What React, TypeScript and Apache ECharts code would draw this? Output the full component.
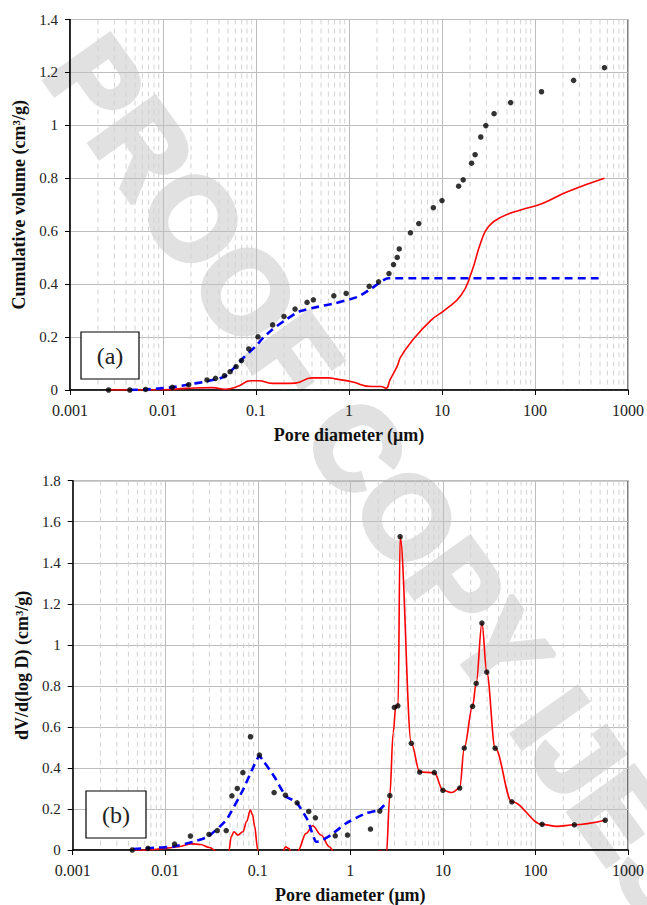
import React, { useEffect, useRef } from "react";
import * as echarts from "echarts";

// ---------- data ----------
const xTickLabels = ["0.001", "0.01", "0.1", "1", "10", "100", "1000"];
const decadeStarts = [0.001, 0.01, 0.1, 1, 10, 100];
const minorSteps = [2, 3, 4, 5, 6, 7, 8, 9];

// panel (a): cumulative volume
const cumDots: number[][] = [
  [0.0026, 0], [0.0044, 0], [0.0065, 0.002], [0.0126, 0.01], [0.0189, 0.02],
  [0.0297, 0.038], [0.0367, 0.044], [0.0458, 0.054], [0.0527, 0.069], [0.0611, 0.088],
  [0.0697, 0.111], [0.0836, 0.155], [0.105, 0.201], [0.151, 0.246], [0.2, 0.278],
  [0.263, 0.306], [0.354, 0.331], [0.414, 0.341], [0.687, 0.356], [0.933, 0.365],
  [1.65, 0.392], [2.08, 0.409], [2.69, 0.44], [3.01, 0.474], [3.3, 0.501],
  [3.47, 0.533], [4.58, 0.594], [5.63, 0.629], [8.07, 0.689], [10.0, 0.716],
  [15.1, 0.77], [16.9, 0.794], [20.8, 0.857], [22.7, 0.889], [26.1, 0.956],
  [29.6, 0.999], [36.3, 1.044], [54.7, 1.086], [117.5, 1.127], [260, 1.17], [558, 1.218],
];
const cumBlue: number[][] = [
  [0.0044, 0], [0.0065, 0.002], [0.0092, 0.006], [0.013, 0.011], [0.0184, 0.02],
  [0.029, 0.032], [0.04, 0.043], [0.048, 0.055], [0.058, 0.083], [0.075, 0.125],
  [0.099, 0.165], [0.12, 0.198], [0.149, 0.228], [0.208, 0.265], [0.288, 0.296],
  [0.472, 0.315], [0.711, 0.328], [1.26, 0.353], [1.75, 0.384], [2.64, 0.422], [500, 0.422],
];
const cumRed: number[][] = [
  [0.0026, 0], [0.005, 0], [0.01, 0.001], [0.0177, 0.006], [0.034, 0.009],
  [0.047, 0.003], [0.066, 0.016], [0.087, 0.035], [0.107, 0.035], [0.149, 0.025],
  [0.207, 0.025], [0.265, 0.026], [0.4, 0.046], [0.6, 0.046], [0.71, 0.042],
  [1.07, 0.031], [1.75, 0.013], [2.2, 0.013], [2.5, 0.007], [2.76, 0.038],
  [3.3, 0.09], [3.6, 0.125], [4.7, 0.183], [7.69, 0.265], [10.7, 0.302],
  [16.1, 0.359], [20.6, 0.441], [26.3, 0.56], [32.0, 0.62], [45, 0.656],
  [70, 0.68], [120, 0.705], [223, 0.749], [558, 0.8],
];

// panel (b): dV/d(log D)
const distDots: number[][] = [
  [0.0044, 0], [0.0065, 0.008], [0.0126, 0.029], [0.0187, 0.068], [0.0297, 0.076],
  [0.0365, 0.095], [0.0456, 0.095], [0.0525, 0.264], [0.06, 0.3], [0.069, 0.377],
  [0.0834, 0.552], [0.104, 0.463], [0.15, 0.28], [0.199, 0.267], [0.266, 0.23],
  [0.355, 0.188], [0.419, 0.157], [0.687, 0.069], [0.933, 0.073], [1.65, 0.102],
  [2.08, 0.19], [2.67, 0.265], [2.99, 0.695], [3.26, 0.703], [3.45, 1.527],
  [4.56, 0.52], [5.62, 0.38], [8.08, 0.377], [10.0, 0.291], [15.2, 0.302],
  [17.0, 0.497], [20.9, 0.7], [22.9, 0.812], [26.4, 1.106], [29.8, 0.867],
  [36.7, 0.496], [55.6, 0.235], [118, 0.125], [263, 0.123], [567, 0.145],
];
const distBlue: number[][] = [
  [0.0045, 0.005], [0.007, 0.01], [0.012, 0.016], [0.02, 0.04], [0.029, 0.065],
  [0.0456, 0.146], [0.069, 0.292], [0.088, 0.398], [0.104, 0.458], [0.113, 0.439],
  [0.151, 0.357], [0.202, 0.26], [0.259, 0.235], [0.346, 0.146], [0.426, 0.04],
  [0.48, 0.044], [0.618, 0.073], [0.897, 0.13], [1.47, 0.179], [2.05, 0.195], [2.32, 0.219],
];
const distRed: number[][] = [
  [0.0044, -0.006], [0.0065, 0.0], [0.01, 0.008], [0.014, 0.016], [0.019, 0.03],
  [0.024, 0.027], [0.03, 0.012], [0.037, -0.01], [0.042, -0.06], [0.0487, -0.005],
  [0.0516, 0.065], [0.0552, 0.089], [0.061, 0.073], [0.069, 0.089], [0.076, 0.14],
  [0.083, 0.195], [0.088, 0.17], [0.092, 0.12], [0.1, 0.0], [0.11, -0.08],
  [0.15, -0.1], [0.185, -0.01], [0.2, 0.016], [0.215, 0.008], [0.23, -0.01],
  [0.25, -0.03], [0.27, -0.005], [0.333, 0.081], [0.392, 0.118], [0.482, 0.073],
  [0.593, 0.016], [0.67, -0.01], [0.8, -0.06], [1.2, -0.1], [2.1, -0.005],
  [2.45, -0.02], [2.67, 0.265], [2.9, 0.57], [3.1, 0.7], [3.28, 0.703],
  [3.45, 1.527], [4.56, 0.52], [5.62, 0.38], [8.08, 0.377], [10.0, 0.291],
  [12.5, 0.28], [15.2, 0.302], [17.0, 0.497], [20.9, 0.7], [22.9, 0.812],
  [26.4, 1.106], [29.8, 0.867], [36.7, 0.496], [55.6, 0.235], [118, 0.125],
  [170, 0.115], [263, 0.123], [567, 0.145],
];

const SERIF = "Liberation Serif, Times New Roman, serif";

export default function App() {
  const ref = useRef<HTMLDivElement>(null);

  useEffect(() => {
    if (!ref.current) return;
    const chart = echarts.init(ref.current, undefined, { renderer: "svg" });

    const minorValues: number[][] = [];
    decadeStarts.forEach((d) => minorSteps.forEach((m) => minorValues.push([d * m, 0])));

    const xAxisBase = (gridIndex: number, gap: number) => ({
      type: "log",
      logBase: 10,
      gridIndex,
      min: 0.001,
      max: 1000,
      name: "Pore diameter (μm)",
      nameLocation: "middle",
      nameGap: gap,
      nameTextStyle: { fontFamily: SERIF, fontWeight: "bold", fontSize: 18, color: "#111" },
      axisLine: { show: true, onZero: false, lineStyle: { color: "#000", width: 1.5 } },
      axisTick: { show: true, inside: false, length: 5, lineStyle: { color: "#000" } },
      axisLabel: {
        fontFamily: SERIF,
        fontSize: 16,
        color: "#222",
        margin: 12,
        formatter: (v: number) => xTickLabels[Math.round(Math.log10(v)) + 3] ?? "",
      },
      splitLine: { show: true, lineStyle: { color: "#bdbdbd", width: 1 } },
    });

    const yAxisBase = (gridIndex: number, max: number, name: string, gap: number) => ({
      type: "value",
      gridIndex,
      min: 0,
      max,
      interval: 0.2,
      name,
      nameLocation: "middle",
      nameGap: gap,
      nameTextStyle: { fontFamily: SERIF, fontWeight: "bold", fontSize: 18, color: "#111" },
      axisLine: { show: true, lineStyle: { color: "#000", width: 1.5 } },
      axisTick: { show: true, inside: false, length: 5, lineStyle: { color: "#000" } },
      axisLabel: {
        fontFamily: SERIF,
        fontSize: 15,
        color: "#222",
        margin: 12,
        formatter: (v: number) => String(Number(v.toFixed(1))),
      },
      splitLine: { show: true, lineStyle: { color: "#bdbdbd", width: 1 } },
    });

    const minorSeries = (idx: number) => ({
      type: "custom",
      xAxisIndex: idx,
      yAxisIndex: idx,
      silent: true,
      z: 0,
      data: minorValues,
      renderItem: (params: any, api: any) => {
        const x = api.coord([api.value(0), 0.5])[0];
        const cs = params.coordSys;
        return {
          type: "line",
          shape: { x1: x, y1: cs.y, x2: x, y2: cs.y + cs.height },
          style: { stroke: "#d2d2d2", lineWidth: 1, lineDash: [5, 4] },
        };
      },
    });

    const option: any = {
      animation: false,
      backgroundColor: "#fff",
      textStyle: { fontFamily: SERIF },
      grid: [
        { left: 70, top: 19.5, width: 561, height: 370.5, show: true, borderColor: "#000", borderWidth: 1, backgroundColor: "transparent" },
        { left: 72.7, top: 480.7, width: 556.6, height: 369.3, show: true, borderColor: "#000", borderWidth: 1, backgroundColor: "transparent" },
      ],
      xAxis: [xAxisBase(0, 36), xAxisBase(1, 36)],
      yAxis: [
        yAxisBase(0, 1.4, "Cumulative volume (cm³/g)", 33),
        yAxisBase(1, 1.8, "dV/d(log D) (cm³/g)", 34),
      ],
      series: [
        minorSeries(0),
        minorSeries(1),
        {
          type: "line", xAxisIndex: 0, yAxisIndex: 0, data: cumRed, showSymbol: false,
          smooth: 0.5, z: 3,
          lineStyle: { color: "#ff0000", width: 1.6 },
        },
        {
          type: "line", xAxisIndex: 0, yAxisIndex: 0, data: cumBlue, showSymbol: false,
          smooth: 0.2, z: 4,
          lineStyle: { color: "#0000ff", width: 2.6, type: [8, 5] },
        },
        {
          type: "scatter", xAxisIndex: 0, yAxisIndex: 0, data: cumDots, symbolSize: 5.5, z: 5,
          itemStyle: { color: "#000" },
        },
        {
          type: "line", xAxisIndex: 1, yAxisIndex: 1, data: distRed, showSymbol: false,
          smooth: 0.35, smoothMonotone: "x", z: 3, clip: true,
          lineStyle: { color: "#ff0000", width: 1.6 },
        },
        {
          type: "line", xAxisIndex: 1, yAxisIndex: 1, data: distBlue, showSymbol: false,
          smooth: 0.15, z: 4,
          lineStyle: { color: "#0000ff", width: 2.6, type: [8, 5] },
        },
        {
          type: "scatter", xAxisIndex: 1, yAxisIndex: 1, data: distDots, symbolSize: 5.5, z: 5,
          itemStyle: { color: "#000" },
        },
      ],
      graphic: [
        {
          type: "text",
          x: 380,
          y: 480,
          rotation: -0.95,
          z: -1,
          silent: true,
          style: {
            text: "PROOF COPY IJES",
            font: "bold 116px Liberation Sans, Arial, sans-serif",
            fill: "#e1e1e1",
            stroke: "#e1e1e1",
            lineWidth: 5,
            align: "center",
            verticalAlign: "middle",
          },
        },
        {
          type: "rect", z: 10,
          shape: { x: 81, y: 332, width: 58, height: 47 },
          style: { fill: "#fff", stroke: "#000", lineWidth: 1.2 },
        },
        {
          type: "text", z: 11, x: 110, y: 356,
          style: { text: "(a)", font: `24px ${SERIF}`, fill: "#222", align: "center", verticalAlign: "middle" },
        },
        {
          type: "rect", z: 10,
          shape: { x: 86, y: 791, width: 60, height: 47 },
          style: { fill: "#fff", stroke: "#000", lineWidth: 1.2 },
        },
        {
          type: "text", z: 11, x: 116, y: 815,
          style: { text: "(b)", font: `24px ${SERIF}`, fill: "#222", align: "center", verticalAlign: "middle" },
        },
      ],
    };

    chart.setOption(option);
    return () => chart.dispose();
  }, []);

  return (
    <div
      ref={ref}
      style={{ position: "absolute", left: 0, top: 0, width: 647, height: 905, background: "#fff" }}
    />
  );
}
